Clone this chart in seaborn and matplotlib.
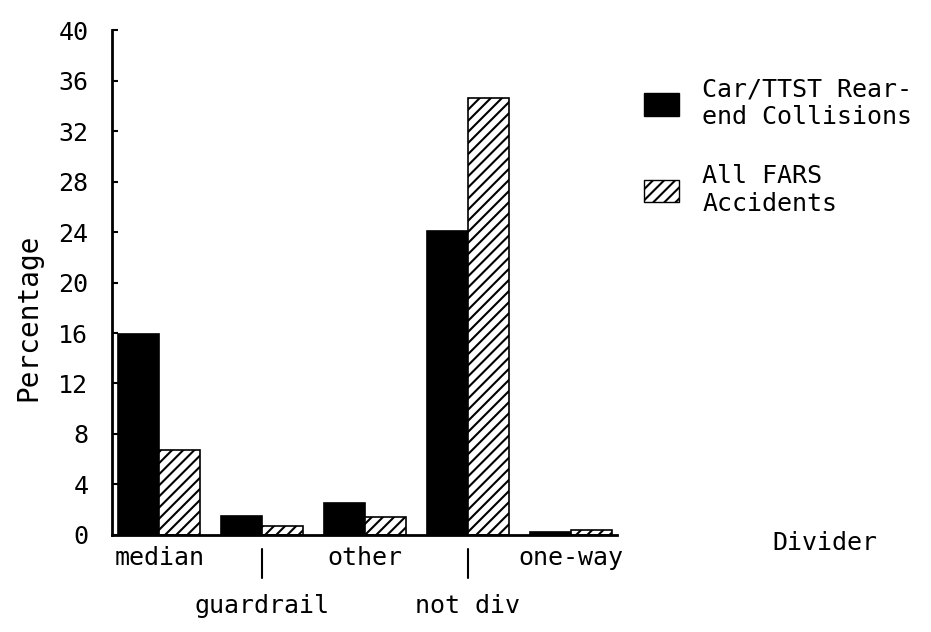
import numpy as np
import pandas as pd
import matplotlib
matplotlib.use("Agg")
import matplotlib.pyplot as plt
import seaborn as sns
from matplotlib.patches import Patch

# -- Data ---------------------------------------------------------------
categories = ["median", "guardrail", "other", "not div", "one-way"]
rear_end = [15.9, 1.5, 2.5, 24.1, 0.2]
all_fars = [6.7, 0.7, 1.4, 34.6, 0.4]
series_names = ["Car/TTST Rear-\nend Collisions", "All FARS\nAccidents"]
y_ticks = list(range(0, 41, 4))

df = pd.DataFrame({
    "Divider": categories * 2,
    "Percentage": rear_end + all_fars,
    "Series": [series_names[0]] * len(categories) + [series_names[1]] * len(categories),
})

sns.set_style("ticks")
plt.rcParams["font.family"] = ["DejaVu Sans Mono"]
plt.rcParams["text.color"] = "black"
plt.rcParams["axes.labelcolor"] = "black"
plt.rcParams["xtick.color"] = "black"
plt.rcParams["ytick.color"] = "black"
plt.rcParams["hatch.linewidth"] = 1.5
plt.rcParams["hatch.color"] = "black"

fig = plt.figure(figsize=(9.31, 6.32), dpi=100)
ax = fig.add_axes([0.1203, 0.1535, 0.5424, 0.799])

sns.barplot(
    data=df, x="Divider", y="Percentage", hue="Series",
    palette=["black", "white"], errorbar=None, width=0.8,
    edgecolor="black", linewidth=1.2, ax=ax, legend=False,
)
for bar in ax.containers[1]:
    bar.set_hatch("///")
    bar.set_facecolor("white")

ax.set_ylim(0, 40)
ax.set_xlim(-0.46, 4.45)
ax.set_yticks(y_ticks)
ax.set_yticklabels([str(t) for t in y_ticks], fontsize=18)
ax.tick_params(axis="y", direction="in", length=4, width=1.5, pad=17)
ax.tick_params(axis="x", length=0, labelsize=18, pad=8)

# stagger category labels like the original
for i, lab in enumerate(ax.get_xticklabels()):
    if i % 2 == 1:
        lab.set_y(-0.095)
        ax.plot([i, i], [-0.028, -0.085], transform=ax.get_xaxis_transform(),
                color="black", lw=1.5, clip_on=False)

sns.despine(ax=ax)
for side in ["left", "bottom"]:
    ax.spines[side].set_linewidth(2)
    ax.spines[side].set_color("black")

ax.set_xlabel("")
ax.set_ylabel("Percentage", fontsize=20)
ax.yaxis.set_label_coords(-0.137, 0.432)
ax.text(1.412, -0.016, "Divider", transform=ax.transAxes, fontsize=18,
        ha="center", va="center")

handles = [
    Patch(facecolor="black", edgecolor="black"),
    Patch(facecolor="white", edgecolor="black", hatch="///"),
]
fig.legend(
    handles, series_names, loc="upper left",
    bbox_to_anchor=(621 / 931, 1 - 55 / 632), frameon=False,
    fontsize=18, handlelength=1.4, handleheight=1.0,
    labelspacing=1.4, handletextpad=0.95,
)

plt.savefig("out.png", dpi=100)
plt.close()
